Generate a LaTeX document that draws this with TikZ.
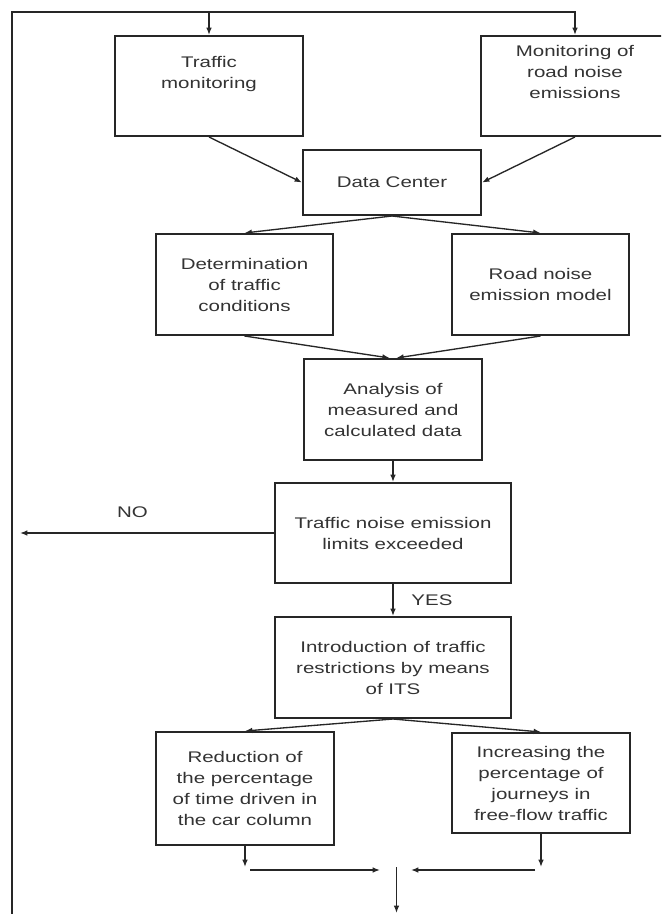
\documentclass[tikz,border=0pt]{standalone}
\usepackage{fontspec}
\setmainfont{Liberation Sans}[FakeStretch=1.33]
\usetikzlibrary{arrows.meta}

\tikzset{
    block/.style={draw=black!85, line width=1.5pt, inner sep=0pt, align=center,
        text=black!80, font=\fontsize{11.55pt}{15.75pt}\selectfont},
    link/.style={draw=black!85, line width=1pt, ->},
    label text/.style={text=black!80, font=\fontsize{11.55pt}{15.75pt}\selectfont},
}

\begin{document}
\begin{tikzpicture}[x=0.75pt, y=-0.75pt, >={Latex[length=5.5pt,width=4.2pt]}]

\fill[white] (0,0) rectangle (661,914);
\useasboundingbox (0,0) rectangle (661,914);
\clip (0,0) rectangle (661,914);

% Draw the monitoring boxes and the data center
\node[block, minimum width=141pt, minimum height=75pt] (mon) at (209,86) {Traffic\\monitoring\\\strut};
\node[block, minimum width=141pt, minimum height=75pt] (noisemon) at (575,86) {Monitoring of\\road noise\\emissions\\\strut};
\node[block, minimum width=133.5pt, minimum height=48.75pt] (dc) at (392,182.5) {Data Center};

% Draw the two models and the analysis
\node[block, minimum width=132.75pt, minimum height=75.75pt] (det) at (244.5,284.5) {Determination\\of traffic\\conditions};
\node[block, minimum width=132.75pt, minimum height=75.75pt] (model) at (540.5,284.5) {Road noise\\emission model};
\node[block, minimum width=133.5pt, minimum height=75.75pt] (ana) at (393,409.5) {Analysis of\\measured and\\calculated data};

% Draw the decision and the measures
\node[block, minimum width=177pt, minimum height=75pt] (lim) at (393,533) {Traffic noise emission\\limits exceeded};
\node[block, minimum width=177pt, minimum height=75.75pt] (its) at (393,667.5) {Introduction of traffic\\restrictions by means\\of ITS};
\node[block, minimum width=133.5pt, minimum height=84.75pt] (red) at (245,788.5) {Reduction of\\the percentage\\of time driven in\\the car column};
\node[block, minimum width=133.5pt, minimum height=75pt] (inc) at (541,783) {Increasing the\\percentage of\\journeys in\\free-flow traffic};

% Draw the loop back to the monitoring
\coordinate (start) at (12,914);
\coordinate (corner) at (12,12);
\draw[link, line width=1.3pt] (start) -- (corner) -| (noisemon.north);
\draw[link] (corner -| mon.north) -- (mon.north);

% Draw the arrows between the boxes
\foreach \a/\b in {mon.south/dc.west, noisemon.south/dc.east, dc.south/det.north,
    dc.south/model.north, ana.south/lim.north, its.south/red.north, its.south/inc.north} {
    \draw[link] (\a) -- (\b);
}
\draw[link] (det.south) -- ([xshift=-2.5pt]ana.north);
\draw[link] (model.south) -- ([xshift=2.5pt]ana.north);

% Draw the two exits of the decision
\coordinate (noend) at (20,533);
\draw[link] (lim.west) -- (noend) node[label text, pos=0.557, above=8pt] {NO};
\draw[link] (lim.south) -- (its.north) node[label text, midway, right=10pt] {YES};

% Draw the merge at the bottom
\coordinate (redtip) at (245,867);
\coordinate (inctip) at (541,867);
\coordinate (joinl) at (250,870);
\coordinate (joinr) at (535,870);
\coordinate (mergel) at (380,870);
\coordinate (merger) at (411,870);
\coordinate (mergetop) at (396.5,867);
\coordinate (exit) at (396.5,913);
\draw[link] (red.south) -- (redtip);
\draw[link] (inc.south) -- (inctip);
\draw[link] (joinl) -- (mergel);
\draw[link] (joinr) -- (merger);
\draw[link] (mergetop) -- (exit);

\end{tikzpicture}
\end{document}
